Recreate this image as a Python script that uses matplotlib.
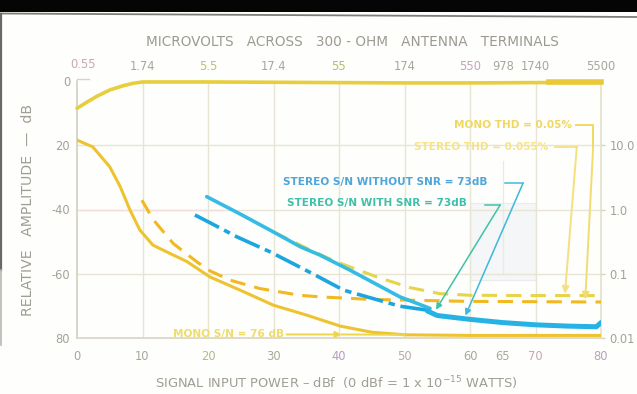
import matplotlib
matplotlib.use("Agg")
import matplotlib.pyplot as plt
from matplotlib.patches import Rectangle
import matplotlib.transforms as mtransforms

# ---------------------------------------------------------------- data
# x: signal input power (dBf), y: relative amplitude (dB)
level_x = [0, 1.5, 3, 5, 7, 8.6, 10, 20, 30, 40, 50, 60, 70, 80]
level_y = [-8.5, -6.6, -4.8, -2.8, -1.5, -0.7, -0.3, -0.3, -0.4, -0.5, -0.6, -0.6, -0.5, -0.4]

mono_sn_x = [0, 2.4, 5, 6.6, 8.1, 9.6, 11.6, 14.2, 16.7, 20.3, 24.9, 30, 35.1, 40.2, 45, 50, 60, 70, 80]
mono_sn_y = [-18.4, -20.5, -26.7, -32.9, -40.2, -46.4, -51.1, -53.7, -56.1, -61.0, -65.1,
             -69.8, -72.9, -76.3, -78.2, -79.0, -79.2, -79.2, -79.2]

mono_thd_x = [9.9, 11.7, 14.7, 18.3, 20.3, 23.4, 27.9, 34, 37.1, 45, 60, 80]
mono_thd_y = [-37.1, -43.3, -50.6, -56.3, -59.1, -62.0, -64.6, -66.7, -67.2, -68.0, -68.6, -68.8]

stereo_thd_x = [30, 35, 39.6, 45.8, 50.8, 55.4, 60, 70, 80]
stereo_thd_y = [-47.0, -52.0, -56.3, -61.0, -64.3, -66.2, -66.7, -66.8, -66.8]

sn_snr_x = [19.8, 25, 30, 34.1, 37.1, 41.7, 45, 49.3, 52, 53.9]
sn_snr_y = [-36.0, -41.5, -47.0, -51.6, -54.2, -58.9, -62.5, -67.2, -69.3, -70.8]

sn_nosnr_x = [18, 20, 24.4, 29.5, 34, 37.1, 40.7, 44.3, 49.3, 53.4]
sn_nosnr_y = [-41.7, -43.8, -48.5, -53.2, -57.9, -61.2, -65.1, -67.2, -70.1, -71.3]

sn_tail_x = [53.5, 55, 57.5, 60, 65, 70, 75, 79.3, 80]
sn_tail_y = [-71.6, -73.0, -73.6, -74.2, -75.2, -75.9, -76.3, -76.5, -75.2]

bottom_ticks = [0, 10, 20, 30, 40, 50, 60, 65, 70, 80]
bottom_labels = ["0", "10", "20", "30", "40", "50", "60", "65", "70", "80"]
top_ticks = [0, 10, 20, 30, 40, 50, 60, 65, 70, 80]
top_labels = ["0.55", "1.74", "5.5", "17.4", "55", "174", "550", "978", "1740", "5500"]
left_ticks = [0, -20, -40, -60, -80]
left_labels = ["0", "20", "-40", "-60", "80"]
right_ticks = [-20, -40, -60, -80]
right_labels = ["10.0", "1.0", "0.1", "0.01"]

# --------------------------------------------------------------- figure
W, H = 637, 394
fig = plt.figure(figsize=(W / 100, H / 100), dpi=100)
fig.patch.set_facecolor("#FEFEFC")

def fx(px):
    return px / W

def fy(py):
    return 1 - py / H

# black band and border of the page
fig.patches.append(Rectangle((0, fy(12)), 1, 1 - fy(12), transform=fig.transFigure,
                             facecolor="#050505", edgecolor="none", zorder=0))
fig.lines.append(plt.Line2D([0, 1], [fy(13.5), fy(17)], transform=fig.transFigure,
                            color="#7E7E78", lw=1.3))
fig.lines.append(plt.Line2D([fx(1.5), fx(1.5)], [fy(14), fy(270)], transform=fig.transFigure,
                            color="#6A6A64", lw=1.6))
fig.lines.append(plt.Line2D([fx(1.5), fx(1.5)], [fy(270), fy(345)], transform=fig.transFigure,
                            color="#B8B8B0", lw=1.2))

ax = fig.add_axes([fx(77), fy(338), fx(601) - fx(77), fy(81) - fy(338)])
ax.set_xlim(0, 80)
ax.set_ylim(-80, 0)
ax.set_facecolor("none")
for s in ax.spines.values():
    s.set_visible(False)

grid_c = "#E8E5D4"
# faint panel behind the leader lines
ax.add_patch(Rectangle((60, -62), 10, 24, facecolor="#F4F6F7", edgecolor="#EAECEC",
                       lw=0.8, zorder=0))
for x in [10, 20, 30, 40, 50, 60, 70]:
    ax.axvline(x, color=grid_c, lw=1.0, zorder=1)
ax.plot([65, 65], [-25, -60], color="#ECEAE0", lw=0.9, zorder=1)
for y in [-20, -40, -60]:
    ax.axhline(y, color=grid_c, lw=1.0, zorder=1)
ax.axhline(-40, xmax=0.28, color="#F2DEDC", lw=1.0, zorder=1)
# frame
ax.plot([0, 0], [0, -80], color="#D2D0BE", lw=1.2, zorder=1, clip_on=False)
ax.plot([0, 80], [-80, -80], color="#D8D5C2", lw=1.2, zorder=1, clip_on=False)
ax.plot([80, 80], [0, -80], color="#E4E0C8", lw=1.2, zorder=1, clip_on=False)
ax.plot([0, 1.8], [0.6, 0.6], color="#E8C8D0", lw=1.0, clip_on=False)

# ---------------------------------------------------------------- curves
lw = 2.2
ax.plot(level_x, level_y, color="#E6CE3C", lw=2.6, solid_capstyle="round", zorder=4, clip_on=False)
ax.plot([72, 80], [-0.4, -0.4], color="#E9C93A", lw=4.0, zorder=4, clip_on=False)

ax.plot(mono_sn_x, mono_sn_y, color="#EEC330", lw=lw, solid_capstyle="round", zorder=4)

ax.plot(stereo_thd_x, stereo_thd_y, color="#E6D44A", lw=lw,
        linestyle=(0, (5, 3)), zorder=3)
ax.plot(mono_thd_x, mono_thd_y, color="#F2B820", lw=lw,
        linestyle=(0, (5, 3)), zorder=4)

ax.plot(sn_nosnr_x, sn_nosnr_y, color="#1CA6DF", lw=2.6,
        linestyle=(0, (7.5, 1.6, 1.8, 1.6)), zorder=5)
ax.plot(sn_snr_x, sn_snr_y, color="#35BCE4", lw=2.6, solid_capstyle="round", zorder=5)
ax.plot(sn_tail_x, sn_tail_y, color="#27B2E6", lw=3.6, solid_capstyle="round", zorder=5)

# ---------------------------------------------------------------- annotations
txt_kw = dict(fontsize=7.6, fontweight="bold", va="center", ha="left", zorder=6)
ax.text(31.4, -31.5, "STEREO S/N WITHOUT SNR = 73dB", color="#4FA5D8", **txt_kw)
ax.text(32.0, -38.0, "STEREO S/N WITH SNR = 73dB", color="#3FC0AA", **txt_kw)
ax.plot([65.3, 68.1], [-31.8, -31.8], color="#48B8D8", lw=1.1, zorder=6)
ax.annotate("", xy=(59.3, -73.0), xytext=(68.1, -31.8),
            arrowprops=dict(arrowstyle="-|>", color="#3BB8DA", lw=1.1,
                            mutation_scale=9, shrinkA=0, shrinkB=0), zorder=6)
ax.plot([62.3, 64.6], [-38.6, -38.6], color="#40C4A8", lw=1.1, zorder=6)
ax.annotate("", xy=(54.8, -71.2), xytext=(64.6, -38.6),
            arrowprops=dict(arrowstyle="-|>", color="#3EC2A6", lw=1.1,
                            mutation_scale=9, shrinkA=0, shrinkB=0), zorder=6)

ax.text(57.6, -13.7, "MONO THD = 0.05%", color="#F0D860", clip_on=False, **txt_kw)
ax.text(51.5, -20.6, "STEREO THD = 0.055%", color="#F5E38A", clip_on=False, **txt_kw)
ax.plot([76.2, 78.8, 78.8], [-13.7, -13.7, -20.6], color="#F0D860", lw=1.4, zorder=6)
ax.annotate("", xy=(77.6, -68.0), xytext=(78.8, -20.6),
            arrowprops=dict(arrowstyle="-|>", color="#F2DC70", lw=1.4,
                            mutation_scale=10, shrinkA=0, shrinkB=0), zorder=6)
ax.plot([73.0, 76.3], [-20.6, -20.6], color="#F4E28A", lw=1.4, zorder=6)
ax.annotate("", xy=(74.5, -66.2), xytext=(76.3, -20.6),
            arrowprops=dict(arrowstyle="-|>", color="#F4E07E", lw=1.4,
                            mutation_scale=10, shrinkA=0, shrinkB=0), zorder=6)

ax.text(14.6, -78.8, "MONO S/N = 76 dB", color="#F0DC6A", clip_on=False, **txt_kw)
ax.annotate("", xy=(40.4, -78.9), xytext=(32.0, -78.9),
            arrowprops=dict(arrowstyle="-|>", color="#EED64C", lw=1.4,
                            mutation_scale=9, shrinkA=0, shrinkB=0), zorder=6)
ax.plot([40.4, 50], [-78.9, -79.0], color="#EED64C", lw=1.4, zorder=4)

# ---------------------------------------------------------------- axes text
tick_c = "#A3A197"
ax.set_xticks(bottom_ticks)
ax.set_xticklabels(bottom_labels)
ax.set_yticks(left_ticks)
ax.set_yticklabels(left_labels)
ax.tick_params(axis="x", length=0, pad=9, labelsize=8.3, labelcolor=tick_c)
ax.tick_params(axis="y", length=0, pad=5, labelsize=8.3, labelcolor=tick_c)
for lbl, c in zip(ax.get_xticklabels(),
                  ["#A8A69C", "#A8A69C", "#B9B58C", "#A8A69C", "#B49CC4",
                   "#BCA8A8", "#A8A69C", "#A8A69C", "#C4A8B0", "#B0A4BC"]):
    lbl.set_color(c)

axr = ax.twinx()
axr.set_ylim(-80, 0)
axr.set_yticks(right_ticks)
axr.set_yticklabels(right_labels)
axr.tick_params(axis="y", length=3, width=1, color="#D8D4C0", pad=3,
                labelsize=8.3, labelcolor=tick_c)
for s in axr.spines.values():
    s.set_visible(False)

top_colors = ["#C8A8B4", "#A8A69C", "#C2BC78", "#A8A69C", "#B8BC6C",
              "#A8A69C", "#C0A4C0", "#A8A69C", "#A8A69C", "#A8A69C"]
top_tr = mtransforms.blended_transform_factory(ax.transData, ax.transAxes)
for x, lab, c in zip(top_ticks, top_labels, top_colors):
    dx = 0.9 if x == 0 else 0
    dy = 0.038 if x == 0 else 0.03
    ax.text(x + dx, 1 + dy, lab, transform=top_tr, ha="center", va="bottom",
            fontsize=8.3, color=c, clip_on=False)

fig.text(fx(352), fy(42), "MICROVOLTS   ACROSS   300 - OHM   ANTENNA   TERMINALS",
         ha="center", va="center", fontsize=9.8, color="#9C9A90")
fig.text(fx(336), fy(383), "SIGNAL INPUT POWER \u2013 dBf  (0 dBf = 1 x 10$^{-15}$ WATTS)",
         ha="center", va="center", fontsize=9.4, color="#A09E94")
fig.text(fx(28), fy(210), "RELATIVE   AMPLITUDE  \u2014  dB", rotation=90,
         ha="center", va="center", fontsize=10.2, color="#A09E94")

fig.savefig("out.png", dpi=100, facecolor=fig.get_facecolor())
